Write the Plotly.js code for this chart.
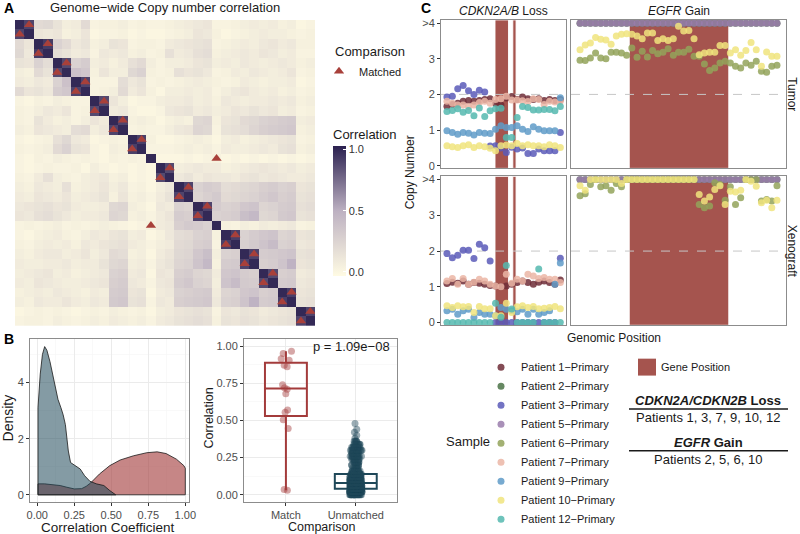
<!DOCTYPE html>
<html>
<head>
<meta charset="utf-8">
<script src="https://cdn.plot.ly/plotly-3.0.1.min.js"></script>
<style>
  html, body { margin: 0; padding: 0; background: #ffffff; }
  #fig { width: 800px; height: 534px; }
</style>
</head>
<body>
<div id="fig"></div>
<script>
// ---------- Panel A: genome-wide copy number correlation (lower triangle, %)
const corLower = [
  [100],
  [90, 100],
  [20, 12, 100],
  [22, 10, 93, 100],
  [14, 12, 26, 18, 100],
  [6, 4, 20, 14, 88, 100],
  [8, 6, 10, 8, 26, 38, 100],
  [20, 12, 14, 10, 30, 34, 90, 100],
  [2, 0, 4, 2, 6, 4, 2, 2, 100],
  [4, 2, 6, 10, 8, 12, 2, 4, 88, 100],
  [4, 2, 14, 8, 4, 6, 2, 6, 12, 8, 100],
  [6, 4, 12, 10, 8, 6, 18, 20, 6, 10, 90, 100],
  [2, 0, 2, 4, 16, 22, 10, 8, 0, 2, 4, 2, 100],
  [4, 2, 4, 6, 20, 26, 14, 12, 2, 0, 6, 4, 92, 100],
  [2, 0, 4, 2, 6, 4, 2, 4, 2, 0, 4, 2, 4, 2, 100],
  [2, 0, 2, 4, 2, 2, 4, 0, 6, 2, 0, 2, 0, 2, 0, 100],
  [4, 2, 8, 16, 6, 4, 2, 6, 8, 10, 4, 6, 0, 2, 0, 88, 100],
  [6, 4, 10, 8, 6, 16, 4, 6, 8, 12, 6, 10, 2, 4, 0, 6, 10, 100],
  [8, 6, 12, 10, 8, 12, 6, 8, 10, 14, 4, 12, 4, 6, 2, 8, 14, 90, 100],
  [10, 12, 14, 16, 12, 14, 8, 6, 6, 8, 22, 24, 6, 4, 0, 10, 8, 26, 24, 100],
  [12, 10, 16, 18, 14, 10, 6, 8, 8, 10, 24, 22, 4, 6, 2, 8, 12, 30, 28, 90, 100],
  [2, 4, 2, 4, 6, 2, 4, 2, 4, 6, 4, 2, 0, 2, 4, 8, 10, 28, 32, 30, 26, 100],
  [2, 0, 4, 6, 8, 4, 2, 6, 10, 8, 12, 14, 6, 8, 0, 4, 10, 18, 20, 26, 28, 4, 100],
  [4, 2, 6, 8, 6, 8, 4, 10, 8, 12, 14, 16, 8, 6, 2, 6, 8, 20, 22, 28, 30, 2, 92, 100],
  [6, 4, 8, 10, 10, 6, 8, 12, 6, 10, 20, 18, 4, 6, 0, 8, 12, 22, 24, 34, 40, 6, 26, 28, 100],
  [8, 6, 6, 8, 8, 10, 6, 8, 8, 14, 22, 24, 6, 8, 2, 10, 14, 24, 26, 36, 44, 4, 30, 32, 90, 100],
  [6, 8, 10, 12, 6, 8, 4, 6, 8, 10, 26, 28, 8, 10, 0, 12, 10, 28, 30, 24, 22, 8, 34, 36, 30, 28, 100],
  [8, 6, 12, 10, 8, 6, 6, 8, 10, 12, 28, 30, 10, 8, 2, 10, 12, 30, 34, 26, 24, 6, 36, 42, 32, 30, 88, 100],
  [4, 6, 8, 6, 10, 8, 6, 4, 8, 6, 30, 32, 12, 14, 0, 8, 10, 26, 28, 30, 32, 8, 24, 26, 34, 36, 28, 30, 100],
  [6, 4, 10, 8, 8, 12, 8, 6, 10, 8, 32, 34, 14, 16, 2, 10, 8, 28, 30, 32, 34, 10, 26, 28, 36, 48, 30, 32, 92, 100],
  [0, 2, 4, 2, 4, 2, 0, 2, 4, 2, 6, 4, 2, 4, 0, 6, 8, 12, 14, 16, 14, 2, 12, 10, 14, 12, 8, 10, 12, 14, 100],
  [2, 4, 4, 2, 6, 4, 2, 4, 6, 4, 8, 6, 4, 6, 2, 8, 10, 14, 16, 18, 16, 4, 14, 12, 16, 14, 10, 12, 14, 16, 90, 100]
];
// matched tumor / xenograft pairs (row, column of the lower triangle)
const matchRow = [1, 3, 5, 7, 9, 11, 13, 16, 18, 20, 21, 23, 25, 27, 29, 31];
const matchCol = [0, 2, 4, 6, 8, 10, 12, 15, 17, 19, 14, 22, 24, 26, 28, 30];

// ---------- Panel B
const matchCor = [0.965, 0.95, 0.915, 0.905, 0.87, 0.86, 0.74, 0.72, 0.71, 0.68, 0.57, 0.555, 0.505, 0.445, 0.035, 0.03];
const densMatchX = [0.005, 0.05, 0.1, 0.155, 0.2, 0.25, 0.3, 0.33, 0.36, 0.39, 0.42, 0.49, 0.56, 0.65, 0.74, 0.81, 0.87, 0.94, 0.99, 1.0];
const densMatchY = [0.39, 0.39, 0.37, 0.33, 0.27, 0.21, 0.22, 0.3, 0.42, 0.57, 0.74, 1.04, 1.24, 1.39, 1.5, 1.53, 1.47, 1.27, 1.04, 0.95];
const densUnmX = [0.005, 0.02, 0.035, 0.05, 0.065, 0.086, 0.115, 0.14, 0.16, 0.175, 0.19, 0.21, 0.225, 0.255, 0.29, 0.32, 0.356, 0.4, 0.45, 0.49, 0.52, 0.53];
const densUnmY = [3.1, 4.3, 5.0, 5.28, 5.15, 4.74, 4.04, 3.4, 3.1, 2.85, 2.5, 1.56, 1.15, 1.04, 0.92, 0.68, 0.48, 0.39, 0.33, 0.15, 0.04, 0.0];

// ---------- Panel C
const patients = ['Patient 1\u2212Primary', 'Patient 2\u2212Primary', 'Patient 3\u2212Primary', 'Patient 5\u2212Primary',
  'Patient 6\u2212Primary', 'Patient 7\u2212Primary', 'Patient 9\u2212Primary', 'Patient 10\u2212Primary', 'Patient 12\u2212Primary'];
const patientColors = ['#6e2d37', '#4b7346', '#5a5ab9', '#9a7cab', '#93a35a', '#ebb6a6', '#5f9bc8', '#f0e47e', '#55b9af'];

const lossPos = [1, 2, 3, 4, 5, 6, 7, 8, 9, 10, 11, 12, 13, 14, 15, 16, 17, 18, 19, 20, 21, 22];
const gainPos = [1, 2, 3, 4, 5, 6, 7, 8, 9, 10, 11, 12, 13, 14, 15, 16, 17, 18, 19, 20,
  21, 22, 23, 24, 25, 26, 27, 28, 29, 30, 31, 32, 33, 34, 35, 36, 37, 38, 39];
const lossBands = [[9.9, 12.4], [13.2, 13.8]];
const gainBands = [[10.5, 29.7]];

// CDKN2A/B region, tumor
const p1LossT = [1.67, 1.72, 1.75, 1.81, 1.83, 1.81, 1.83, 1.86, 1.88, 1.75, 1.7, 1.9, 1.94, 1.86, 1.93, 1.88, 1.86, 1.88, 1.83, 1.86, 1.83, 1.86];
const p3LossT = [1.93, 1.95, 2.16, 2.25, 2.1, 2.0, 2.12, 2.07, 0.55, 0.56, 0.5, 0.37, 0.52, 0.47, 0.5, 0.34, 0.34, 0.47, 0.42, 0.42, 0.42, 0.93];
const p7LossT = [1.81, 1.75, 1.7, 1.7, 1.66, 1.7, 1.77, 1.81, 1.75, 1.86, 1.88, 1.95, 1.84, 1.84, 1.82, 1.8, 1.88, 1.86, 1.72, 1.81, 1.79, 1.81];
const p9LossT = [0.98, 0.93, 0.88, 0.93, 0.91, 0.86, 0.93, 0.91, 0.9, 1.02, 1.12, 1.07, 1.07, 1.12, 1.02, 0.96, 1.09, 1.02, 0.98, 0.98, 0.98, 1.91];
const p10LossT = [0.56, 0.53, 0.51, 0.56, 0.59, 0.51, 0.56, 0.53, 0.49, 0.42, 0.56, 0.58, 0.56, 0.62, 0.56, 0.59, 0.56, 0.56, 0.53, 0.59, 0.56, 0.51];
const p12LossT = [1.52, 1.55, 1.6, 1.5, 1.55, 1.4, 1.62, 1.38, 1.54, 1.6, 1.61, 0.79, 0.79, 1.35, 1.66, 1.63, 1.56, 1.56, 1.58, 1.58, 1.54, 1.66];
// CDKN2A/B region, xenograft
const p1LossX = [1.09, 1.13, 1.1, 1.16, 1.07, 1.12, 1.1, 1.07, 1.04, 1.02, 1.0, 1.02, 1.07, 1.12, 1.16, 1.12, 1.07, 1.13, 1.16, 1.12, 1.07, 1.19];
const p3LossX = [1.93, 1.81, 1.88, 2.02, 2.02, 1.79, 2.19, 2.09, 1.72, 0, 0, 0, 0, 0, 0, 0, 0, 0, 0, 0, 0, 1.8];
const p7LossX = [1.16, 1.23, 1.07, 1.23, 1.07, 1.13, 1.21, 1.16, 1.07, 1.02, 1.0, 1.35, 1.1, 1.21, 1.16, 1.35, 1.3, 1.23, 1.26, 1.21, 1.21, 1.12];
const p9LossX = [0.33, 0.37, 0.23, 0.33, 0.37, 0.14, 0.28, 0.23, 0.23, 0.19, 0.42, 0.37, 0.33, 0.3, 0.37, 0.23, 0.37, 0.23, 0.28, 0.33, 1.07, 1.67];
const p10LossX = [0.47, 0.42, 0.47, 0.44, 0.45, 0.28, 0.45, 0.39, 0.39, 0.19, 0.19, 0.54, 0.28, 0.44, 0.47, 0.42, 0.45, 0.39, 0.4, 0.42, 0.45, 0.39];
const p12LossX = [0, 0, 0, 0, 0, 0, 0, 0, 0, 0.54, 0.15, 1.6, 0.38, 0, 0, 0, 0, 1.5, 0, 0, 0, 0];

// EGFR region (values above 4 are shown as >4)
const p2GainT = [4, 4, 4, 4, 4, 4, 4, 4, 4, 4, 4, 4, 4, 4, 4, 4, 4, 4, 4, 4, 4, 4, 4, 4, 4, 4, 4, 4, 4, 4, 4, 4, 4, 4, 4, 4, 4, 4, 4];
const p5GainT = [4, 4, 4, 4, 4, 4, 4, 4, 4, 4, 4, 4, 4, 4, 4, 4, 4, 4, 4, 4, 4, 4, 4, 4, 4, 4, 4, 4, 4, 4, 4, 4, 4, 4, 4, 4, 4, 4, 4];
const p6GainT = [2.96, 2.95, 3.02, 3.16, 3.02, 3.0, 3.18, 3.18, 3.16, 3.1, 3.3, 3.04, 3.21, 3.05, 3.23, 3.14, 3.18, 3.28, 3.1, 3.18,
  3.18, 3.27, 3.07, 3.07, 2.85, 2.67, 2.74, 2.88, 2.93, 2.88, 2.79, 2.74, 2.88, 2.82, 2.93, 2.65, 2.62, 2.79, 2.82];
const p10GainT = [3.25, 3.39, 3.44, 3.6, 3.55, 3.53, 3.41, 3.64, 3.69, 3.7, 3.69, 3.64, 3.56, 3.72, 3.72, 3.51, 3.56, 3.51, 3.56, 3.91,
  3.78, 3.79, 3.56, 3.11, 3.16, 3.18, 3.18, 3.37, 3.37, 3.16, 3.25, 3.1, 3.23, 3.46, 3.25, 2.79, 3.19, 3.07, 3.07];
const p2GainX = [4, 4, 4, 4, 4, 4, 4, 4, 4, 4, 4, 4, 4, 4, 4, 4, 4, 4, 4, 4, 4, 4, 4, 4, 4, 4, 4, 4, 4, 4, 4, 4, 4, 4, 4, 4, 4, 4, 4];
const p5GainX = [4, 4, 4, 4, 4, 4, 4, 4, 4, 4, 4, 4, 4, 4, 4, 4, 4, 4, 4, 4, 4, 4, 4, 4, 4, 4, 4, 4, 4, 4, 4, 4, 4, 4, 4, 4, 4, 4, 4];
const p6GainX = [3.55, 3.6, 3.86, 4, 3.8, 3.83, 3.7, 3.89, 3.8, 4, 4, 4, 4, 4, 4, 4, 4, 4, 4, 4,
  4, 4, 4, 3.3, 3.21, 3.26, 3.91, 3.86, 3.42, 3.8, 3.3, 3.49, 4, 4, 4, 3.4, 3.44, 3.4, 3.83];
const p10GainX = [3.83, 3.7, 4, 4, 4, 4, 4, 4, 3.89, 4, 4, 4, 4, 4, 4, 4, 4, 4, 4, 4,
  4, 4, 4, 3.58, 3.4, 3.51, 3.72, 3.83, 3.3, 3.67, 3.65, 3.7, 4, 3.95, 3.81, 3.35, 3.42, 3.21, 3.42];

// patient index, tumor values, xenograft values
const lossSeries = [[0, p1LossT, p1LossX], [2, p3LossT, p3LossX], [5, p7LossT, p7LossX],
  [6, p9LossT, p9LossX], [7, p10LossT, p10LossX], [8, p12LossT, p12LossX]];
const gainSeries = [[1, p2GainT, p2GainX], [3, p5GainT, p5GainX], [4, p6GainT, p6GainX], [7, p10GainT, p10GainX]];

const cnTicks = [0, 1, 2, 3, 4];
const cnTickText = ['0', '1', '2', '3', '>4'];

// ---------- helpers
const FONT = 'Liberation Sans, Arial, Helvetica, sans-serif';
const GENE_RED = '#a5544e';
const MATCH_RED = '#a33b3b';
const UNM_TEAL = '#1f4859';
const px = v => v / 800;       // figure pixel -> paper x
const py = v => 1 - v / 534;   // figure pixel -> paper y
const tickFont = { family: FONT, size: 11, color: '#4d4d4d' };

// full symmetric matrix from the lower triangle
const n = corLower.length;
const cellIdx = corLower.map((_, i) => i);
const corMatrix = cellIdx.map(i => cellIdx.map(j => (j <= i ? corLower[i][j] : corLower[j][i]) / 100));

// unmatched pairs = every lower-triangle cell that is not a matched pair
const unmatchedCor = [];
for (let i = 1; i < n; i++) {
  for (let j = 0; j < i; j++) {
    const matched = matchRow.some((r, k) => r === i && matchCol[k] === j);
    if (!matched) unmatchedCor.push(corLower[i][j] / 100);
  }
}

function densityOutline(xs, ys) {
  // closed outline: baseline -> curve -> baseline
  return {
    x: [xs[0]].concat(xs, [xs[xs.length - 1], xs[0]]),
    y: [0].concat(ys, [0, 0])
  };
}

const traces = [];

// Panel A
traces.push({
  type: 'heatmap', z: corMatrix, x: cellIdx, y: cellIdx, xaxis: 'x', yaxis: 'y',
  zmin: -0.035, zmax: 1.03,
  colorscale: [[0, '#fffbe3'], [0.5, '#bdb1c2'], [1, '#2b2150']],
  hoverinfo: 'skip',
  colorbar: {
    x: px(333), xanchor: 'left', y: py(277), yanchor: 'bottom',
    len: 150, lenmode: 'pixels', thickness: 13, thicknessmode: 'pixels',
    outlinewidth: 0, xpad: 0, ypad: 0,
    tickvals: [0, 0.5, 1], ticktext: ['0.0', '0.5', '1.0'],
    ticks: 'inside', ticklen: 3, tickcolor: '#ffffff',
    tickfont: { family: FONT, size: 11, color: '#333333' },
    title: { text: 'Correlation', side: 'top', font: { family: FONT, size: 13, color: '#1a1a1a' } }
  }
});
traces.push({
  type: 'scatter', mode: 'markers', name: 'Matched', xaxis: 'x', yaxis: 'y',
  x: matchCol.concat(matchRow), y: matchRow.concat(matchCol),
  marker: { symbol: 'triangle-up', size: 9, color: '#a8403a' },
  legend: 'legend', showlegend: true, hoverinfo: 'skip'
});

// Panel B - densities
const dm = densityOutline(densMatchX, densMatchY);
const du = densityOutline(densUnmX, densUnmY);
traces.push({
  type: 'scatter', mode: 'lines', x: dm.x, y: dm.y, xaxis: 'x2', yaxis: 'y2',
  fill: 'toself', fillcolor: 'rgba(163,59,59,0.62)', line: { color: '#1a1a1a', width: 0.8 },
  showlegend: false, hoverinfo: 'skip'
});
traces.push({
  type: 'scatter', mode: 'lines', x: du.x, y: du.y, xaxis: 'x2', yaxis: 'y2',
  fill: 'toself', fillcolor: 'rgba(31,72,89,0.55)', line: { color: '#1a1a1a', width: 0.8 },
  showlegend: false, hoverinfo: 'skip'
});

// Panel B - boxplots
[['Match', matchCor, MATCH_RED, 'rgba(163,59,59,0.45)'],
 ['Unmatched', unmatchedCor, UNM_TEAL, 'rgba(31,72,89,0.45)']].forEach(([name, vals, col, ptCol]) => {
  traces.push({
    type: 'box', name: name, y: vals, xaxis: 'x3', yaxis: 'y3',
    boxpoints: 'all', jitter: 0.3, pointpos: 0, width: 0.6, whiskerwidth: 0,
    quartilemethod: 'linear',
    line: { color: col, width: 2 }, fillcolor: 'rgba(0,0,0,0)',
    marker: { color: ptCol, size: 7 },
    showlegend: false, hoverinfo: 'skip'
  });
});

// Panel C - points
const shown = new Set();
function addPoints(series, pos, axT, axX) {
  series.forEach(([k, tum, xen]) => {
    [[tum, axT], [xen, axX]].forEach(([vals, ax], m) => {
      const first = m === 0 && !shown.has(k);
      if (first) shown.add(k);
      traces.push({
        type: 'scatter', mode: 'markers', x: pos, y: vals,
        xaxis: 'x' + ax, yaxis: 'y' + ax,
        name: patients[k], legendgroup: patients[k], legend: 'legend2', legendrank: k + 1,
        showlegend: first,
        marker: { size: 7, color: patientColors[k], opacity: 0.85 },
        hoverinfo: 'skip'
      });
    });
  });
}
addPoints(lossSeries, lossPos, 4, 6);
addPoints(gainSeries, gainPos, 5, 7);

// ---------- shapes
const shapes = [];
lossBands.forEach(b => ['4', '6'].forEach(a => shapes.push({
  type: 'rect', xref: 'x' + a, yref: 'y' + a + ' domain', x0: b[0], x1: b[1], y0: 0, y1: 1,
  fillcolor: GENE_RED, line: { color: 'rgba(255,255,255,0.9)', width: 1 }, layer: 'below'
})));
gainBands.forEach(b => ['5', '7'].forEach(a => shapes.push({
  type: 'rect', xref: 'x' + a, yref: 'y' + a + ' domain', x0: b[0], x1: b[1], y0: 0, y1: 1,
  fillcolor: GENE_RED, line: { color: 'rgba(255,255,255,0.9)', width: 1 }, layer: 'below'
})));
['4', '5', '6', '7'].forEach(a => shapes.push({
  type: 'line', xref: 'x' + a + ' domain', yref: 'y' + a, x0: 0, x1: 1, y0: 2, y1: 2,
  line: { color: '#c6c6c6', width: 1, dash: 'dash' }, layer: 'below'
}));
// "Gene Position" key and the table rules
shapes.push({ type: 'rect', xref: 'paper', yref: 'paper', x0: px(638), x1: px(656), y0: py(377), y1: py(360),
  fillcolor: GENE_RED, line: { width: 0 } });
[410.5, 452.5].forEach(y => shapes.push({ type: 'line', xref: 'paper', yref: 'paper',
  x0: px(629), x1: px(788), y0: py(y), y1: py(y), line: { color: '#1a1a1a', width: 1.6 } }));

// ---------- annotations
const ann = (text, x, y, opts) => Object.assign({
  text: text, xref: 'paper', yref: 'paper', x: px(x), y: py(y), showarrow: false,
  xanchor: 'center', yanchor: 'middle', font: { family: FONT, size: 13, color: '#1a1a1a' }
}, opts || {});
const annotations = [
  ann('<b>A</b>', 2, 8, { xanchor: 'left', font: { family: FONT, size: 14, color: '#000' } }),
  ann('Genome\u2212wide Copy number correlation', 165, 8),
  ann('Comparison', 333, 52, { xanchor: 'left' }),
  ann('<b>B</b>', 2, 340, { xanchor: 'left', font: { family: FONT, size: 14, color: '#000' } }),
  ann('Correlation Coefficient', 108, 529, { font: { family: FONT, size: 13.5, color: '#1a1a1a' } }),
  ann('Density', 8, 420, { textangle: -90, font: { family: FONT, size: 14, color: '#1a1a1a' } }),
  ann('Comparison', 321, 528.5, { font: { family: FONT, size: 12.5, color: '#1a1a1a' } }),
  ann('Correlation', 209, 420, { textangle: -90, font: { family: FONT, size: 12.5, color: '#1a1a1a' } }),
  ann('p = 1.09e\u221208', 351, 348, { font: { family: FONT, size: 13, color: '#1a1a1a' } }),
  ann('<b>C</b>', 419, 8, { xanchor: 'left', font: { family: FONT, size: 14, color: '#000' } }),
  ann('<i>CDKN2A/B</i> Loss', 503.5, 11, { font: { family: FONT, size: 12, color: '#1a1a1a' } }),
  ann('<i>EGFR</i> Gain', 678.5, 11, { font: { family: FONT, size: 12, color: '#1a1a1a' } }),
  ann('Tumor', 792, 94.5, { textangle: 90, font: { family: FONT, size: 12, color: '#1a1a1a' } }),
  ann('Xenograft', 792, 251.7, { textangle: 90, font: { family: FONT, size: 12, color: '#1a1a1a' } }),
  ann('Copy Number', 410, 173, { textangle: -90, font: { family: FONT, size: 12, color: '#1a1a1a' } }),
  ann('Genomic Position', 613.5, 339, { font: { family: FONT, size: 12, color: '#1a1a1a' } }),
  ann('Sample', 468.5, 443),
  ann('Gene Position', 659, 368.5, { xanchor: 'left', font: { family: FONT, size: 11, color: '#1a1a1a' } }),
  ann('<b><i>CDKN2A/CDKN2B</i> Loss</b>', 708, 402),
  ann('Patients 1, 3, 7, 9, 10, 12', 708, 419.5),
  ann('<b><i>EGFR</i> Gain</b>', 708, 444),
  ann('Patients 2, 5, 6, 10', 708, 461.5)
];

// ---------- axes
const frame = { showline: true, mirror: true, linecolor: '#8c8c8c', linewidth: 1, zeroline: false };
const cY = (top, bottom, labels) => Object.assign({
  domain: [py(bottom), py(top)], range: [-0.075, 4.09],
  tickvals: cnTicks, ticktext: cnTickText, showticklabels: labels,
  ticks: labels ? 'outside' : '', ticklen: 3, tickcolor: '#333333', tickfont: tickFont,
  showgrid: false
}, frame);
const cX = (left, right, range) => Object.assign({
  domain: [px(left), px(right)], range: range, showticklabels: false, ticks: '', showgrid: false
}, frame);

const layout = {
  width: 800, height: 534, autosize: false,
  margin: { l: 0, r: 0, t: 0, b: 0 },
  paper_bgcolor: '#ffffff', plot_bgcolor: '#ffffff',
  font: { family: FONT, color: '#1a1a1a' },
  // Panel A
  xaxis: { domain: [px(15), px(315)], range: [-0.5, 31.5], showticklabels: false, ticks: '',
    showgrid: false, zeroline: false, showline: false },
  yaxis: { domain: [py(327), py(20)], range: [31.5, -0.5], showticklabels: false, ticks: '',
    showgrid: false, zeroline: false, showline: false },
  // Panel B density
  xaxis2: Object.assign({
    domain: [px(30), px(189)], anchor: 'y2', range: [-0.049, 1.025],
    tickvals: [0, 0.25, 0.5, 0.75, 1], ticktext: ['0.00', '0.25', '0.50', '0.75', '1.00'],
    ticks: 'outside', ticklen: 2.5, tickcolor: '#333333', tickfont: tickFont,
    showgrid: true, gridcolor: '#ebebeb', gridwidth: 1,
    minor: { tickvals: [0.125, 0.375, 0.625, 0.875], showgrid: true, gridcolor: '#f5f5f5', gridwidth: 0.6, ticks: '' }
  }, frame),
  yaxis2: Object.assign({
    domain: [py(504), py(340)], anchor: 'x2', range: [-0.26, 5.56],
    tickvals: [0, 2, 4], ticks: 'outside', ticklen: 3, tickcolor: '#333333', tickfont: tickFont,
    showgrid: true, gridcolor: '#ebebeb', gridwidth: 1,
    minor: { tickvals: [1, 3, 5], showgrid: true, gridcolor: '#f5f5f5', gridwidth: 0.6, ticks: '' }
  }, frame),
  // Panel B boxplot
  xaxis3: Object.assign({
    domain: [px(244), px(397)], anchor: 'y3', type: 'category',
    categoryorder: 'array', categoryarray: ['Match', 'Unmatched'], range: [-0.6, 1.59],
    ticks: 'outside', ticklen: 2.5, tickcolor: '#333333', tickfont: tickFont,
    showgrid: true, gridcolor: '#ebebeb'
  }, frame),
  yaxis3: Object.assign({
    domain: [py(504), py(340)], anchor: 'x3', range: [-0.049, 1.049],
    tickvals: [0, 0.25, 0.5, 0.75, 1], ticktext: ['0.00', '0.25', '0.50', '0.75', '1.00'],
    ticks: 'outside', ticklen: 3, tickcolor: '#333333', tickfont: tickFont,
    showgrid: true, gridcolor: '#ebebeb',
    minor: { tickvals: [0.125, 0.375, 0.625, 0.875], showgrid: true, gridcolor: '#f5f5f5', gridwidth: 0.6, ticks: '' }
  }, frame),
  // Panel C
  xaxis4: Object.assign(cX(441, 566, [-0.1, 23.05]), { anchor: 'y4' }),
  yaxis4: Object.assign(cY(20, 169, true), { anchor: 'x4' }),
  xaxis5: Object.assign(cX(571, 786, [-0.74, 40.74]), { anchor: 'y5' }),
  yaxis5: Object.assign(cY(20, 169, false), { anchor: 'x5' }),
  xaxis6: Object.assign(cX(441, 566, [-0.1, 23.05]), { anchor: 'y6' }),
  yaxis6: Object.assign(cY(177, 326.5, true), { anchor: 'x6' }),
  xaxis7: Object.assign(cX(571, 786, [-0.74, 40.74]), { anchor: 'y7' }),
  yaxis7: Object.assign(cY(177, 326.5, false), { anchor: 'x7' }),
  legend: {
    x: px(319), xanchor: 'left', y: py(57), yanchor: 'top',
    bgcolor: 'rgba(0,0,0,0)', borderwidth: 0,
    font: { family: FONT, size: 11, color: '#1a1a1a' }
  },
  legend2: {
    x: px(481), xanchor: 'left', y: py(354), yanchor: 'top',
    bgcolor: 'rgba(0,0,0,0)', borderwidth: 0, traceorder: 'normal',
    font: { family: FONT, size: 11, color: '#1a1a1a' }
  },
  shapes: shapes,
  annotations: annotations
};

Plotly.newPlot('fig', traces, layout, { displayModeBar: false, staticPlot: true });
</script>
</body>
</html>
